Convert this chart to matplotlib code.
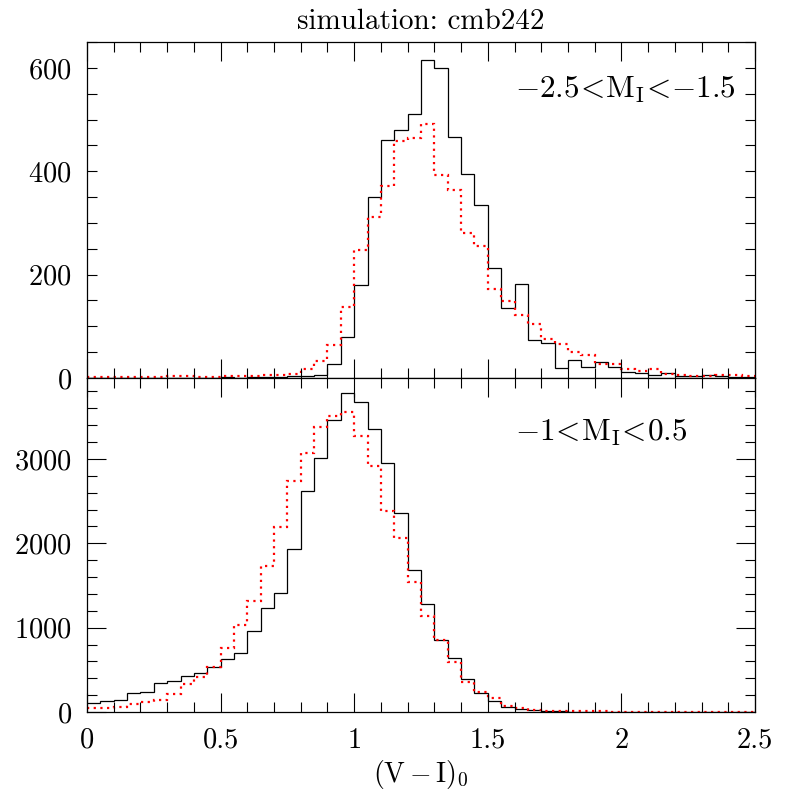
import numpy as np
import matplotlib
matplotlib.use("Agg")
import matplotlib.pyplot as plt
from matplotlib.ticker import MultipleLocator, FuncFormatter

plt.rcParams['font.family'] = 'serif'
plt.rcParams['font.serif'] = ['cmr10']
plt.rcParams['mathtext.fontset'] = 'cm'
plt.rcParams['axes.formatter.use_mathtext'] = True

# bins of (V-I)_0, width 0.05 from 0 to 2.5
edges = np.linspace(0.0, 2.5, 51)

# top panel: -2.5 < M_I < -1.5
top_black = [0, 0, 0, 0, 0, 0, 0, 0, 0, 0, 1, 0, 1, 1, 2,
             3, 4, 6, 27, 80, 179, 351, 461, 480, 510, 615, 600, 467, 395, 334,
             213, 136, 181, 73, 67, 19, 35, 21, 31, 21, 12, 9, 6, 9, 3,
             4, 6, 4, 1, 1]
top_red = [2, 2, 2, 2, 2, 2, 4, 4, 2, 2, 3, 3, 3, 6, 6,
           8, 17, 33, 64, 138, 247, 311, 372, 459, 465, 492, 393, 363, 280, 255,
           173, 149, 121, 104, 75, 66, 51, 44, 28, 27, 17, 13, 17, 8, 6,
           4, 4, 6, 6, 3]

# bottom panel: -1 < M_I < 0.5
bot_black = [110, 134, 142, 221, 233, 348, 368, 427, 458, 538, 625, 704, 961, 1238, 1416,
             1934, 2622, 3009, 3464, 3780, 3681, 3357, 2950, 2364, 1684, 1277, 854, 637, 391, 221,
             130, 63, 32, 24, 12, 8, 5, 4, 3, 2, 2, 1, 1, 1, 0,
             0, 0, 0, 0, 0]
bot_red = [43, 43, 63, 91, 115, 142, 209, 328, 419, 538, 763, 1032, 1320, 1728, 2188,
           2744, 3068, 3377, 3511, 3555, 3278, 2918, 2388, 2060, 1538, 1139, 858, 593, 360, 241,
           162, 75, 43, 24, 15, 12, 10, 8, 6, 5, 4, 3, 3, 2, 2,
           2, 1, 1, 1, 1]

title = "simulation: cmb242"
label_top = r'$-2.5\!<\!\mathrm{M_I}\!<\!{-}1.5$'
label_bot = r'$-1\!<\!\mathrm{M_I}\!<\!0.5$'
x_label = r'$(\mathrm{V}-\mathrm{I})_0$'

fig = plt.figure(figsize=(7.97, 7.97), dpi=100)
L, R = 87 / 797, 755 / 797
ax1 = fig.add_axes([L, 1 - 378 / 797, R - L, (378 - 42) / 797])
ax2 = fig.add_axes([L, 1 - 712 / 797, R - L, (712 - 378) / 797], sharex=ax1)

dots = (0, (1, 2))
ax1.stairs(top_black, edges, baseline=None, color='black', lw=0.9)
ax1.stairs(top_red, edges, baseline=None, color='red', lw=1.6, linestyle=dots)
ax2.stairs(bot_black, edges, baseline=None, color='black', lw=0.9)
ax2.stairs(bot_red, edges, baseline=None, color='red', lw=1.6, linestyle=dots)

ax1.set_xlim(0, 2.5)
ax1.set_ylim(0, 650)
ax2.set_ylim(0, 3960)

for ax in (ax1, ax2):
    for s in ax.spines.values():
        s.set_linewidth(0.9)
    ax.xaxis.set_major_locator(MultipleLocator(0.5))
    ax.xaxis.set_minor_locator(MultipleLocator(0.1))
    ax.tick_params(which='both', direction='in', top=True, right=True,
                   labelsize=20.5, width=0.8, pad=11)
    ax.tick_params(which='major', length=14)
    ax.tick_params(which='minor', length=7)

ax1.yaxis.set_major_locator(MultipleLocator(200))
ax1.yaxis.set_minor_locator(MultipleLocator(50))
ax1.tick_params(axis='y', which='major', length=7)
ax2.yaxis.set_major_locator(MultipleLocator(1000))
ax2.yaxis.set_minor_locator(MultipleLocator(200))
ax1.tick_params(axis='x', labelbottom=False)
ax2.xaxis.set_major_formatter(FuncFormatter(lambda v, p: '%g' % v))

ax1.set_title(title, fontsize=21, pad=9)
ax1.text(0.641, 0.857, label_top, transform=ax1.transAxes, fontsize=22.5,
         ha='left', va='center')
ax2.text(0.641, 0.835, label_bot, transform=ax2.transAxes, fontsize=22.5,
         ha='left', va='center')
ax2.set_xlabel(x_label, fontsize=20, labelpad=3)

fig.savefig("out.png", dpi=100)
